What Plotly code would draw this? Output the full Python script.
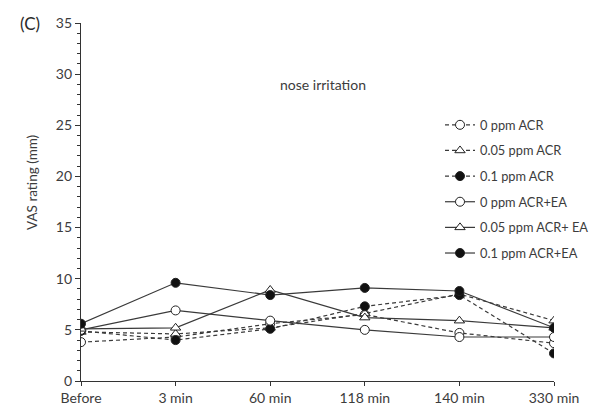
import plotly.graph_objects as go

categories = ["Before", "3 min", "60 min", "118 min", "140 min", "330 min"]

acr_0 = [3.8, 4.3, 5.6, 6.5, 4.7, 3.7]
acr_005 = [4.8, 4.6, 5.2, 6.6, 8.5, 5.9]
acr_01 = [4.9, 4.0, 5.1, 7.3, 8.4, 2.7]
ea_0 = [5.0, 6.9, 5.9, 5.0, 4.3, 4.3]
ea_005 = [5.1, 5.2, 8.9, 6.2, 5.9, 5.2]
ea_01 = [5.6, 9.6, 8.4, 9.1, 8.8, 5.2]

series_names = ["0 ppm ACR", "0.05 ppm ACR", "0.1 ppm ACR",
                "0 ppm ACR+EA", "0.05 ppm ACR+ EA", "0.1 ppm ACR+EA"]
series_values = [acr_0, acr_005, acr_01, ea_0, ea_005, ea_01]

INK = "#3a3a3a"
TXT = "#3c3c3c"
styles = [
    dict(dash="dash", symbol="circle", fill="white"),
    dict(dash="dash", symbol="triangle-up", fill="white"),
    dict(dash="dash", symbol="circle", fill="#111111"),
    dict(dash="solid", symbol="circle", fill="white"),
    dict(dash="solid", symbol="triangle-up", fill="white"),
    dict(dash="solid", symbol="circle", fill="#111111"),
]

fig = go.Figure()
for i, (name, vals, st) in enumerate(zip(series_names, series_values, styles)):
    fig.add_trace(go.Scatter(
        x=categories, y=vals, name=name, mode="lines+markers",
        legendgroup=f"g{i}",
        line=dict(color=INK, width=1.2, dash="4px,3px" if st["dash"] == "dash" else "solid"),
        marker=dict(symbol=st["symbol"], size=9, color=st["fill"],
                    line=dict(color="#222222", width=1)),
    ))

fig.update_layout(
    width=599, height=407,
    margin=dict(l=81, r=45, t=23, b=26, autoexpand=False),
    paper_bgcolor="white", plot_bgcolor="white",
    font=dict(family="Lato, Open Sans, sans-serif", size=13, color=TXT),
    showlegend=True,
    legend=dict(x=0.759, y=0.757, xanchor="left", yanchor="top",
                bgcolor="rgba(0,0,0,0)", font=dict(size=12.8, color=TXT),
                tracegroupgap=6, itemwidth=30),
    xaxis=dict(
        type="category", range=[0, 5], showgrid=False, zeroline=False,
        automargin=False,
        showline=True, linecolor="#333333", linewidth=1.2,
        ticks="outside", ticklen=4, tickcolor="#333333",
        tickfont=dict(size=14, color=TXT),
    ),
    yaxis=dict(
        range=[0, 35], tickvals=[0, 5, 10, 15, 20, 25, 30, 35],
        automargin=False,
        showgrid=False, zeroline=False, showline=True,
        linecolor="#333333", linewidth=1.2,
        ticks="outside", ticklen=5, tickcolor="#333333",
        minor=dict(dtick=1, ticks="outside", ticklen=3, tickcolor="#333333"),
        tickfont=dict(size=14, color=TXT),
    ),
    annotations=[
        dict(text="nose irritation", x=2.56, y=29.0, xref="x", yref="y",
             showarrow=False, font=dict(size=14, color=TXT)),
        dict(text="(C)", x=-0.108, y=1.0, xref="paper", yref="paper",
             xanchor="center", yanchor="middle",
             showarrow=False, font=dict(size=17, color="#2a2a2a")),
        dict(text="VAS rating (mm)", x=-0.1036, y=0.556, xref="paper", yref="paper",
             xanchor="center", yanchor="middle", textangle=-90,
             showarrow=False, font=dict(size=13.5, color=TXT)),
    ],
)

fig.write_html("out.html")
